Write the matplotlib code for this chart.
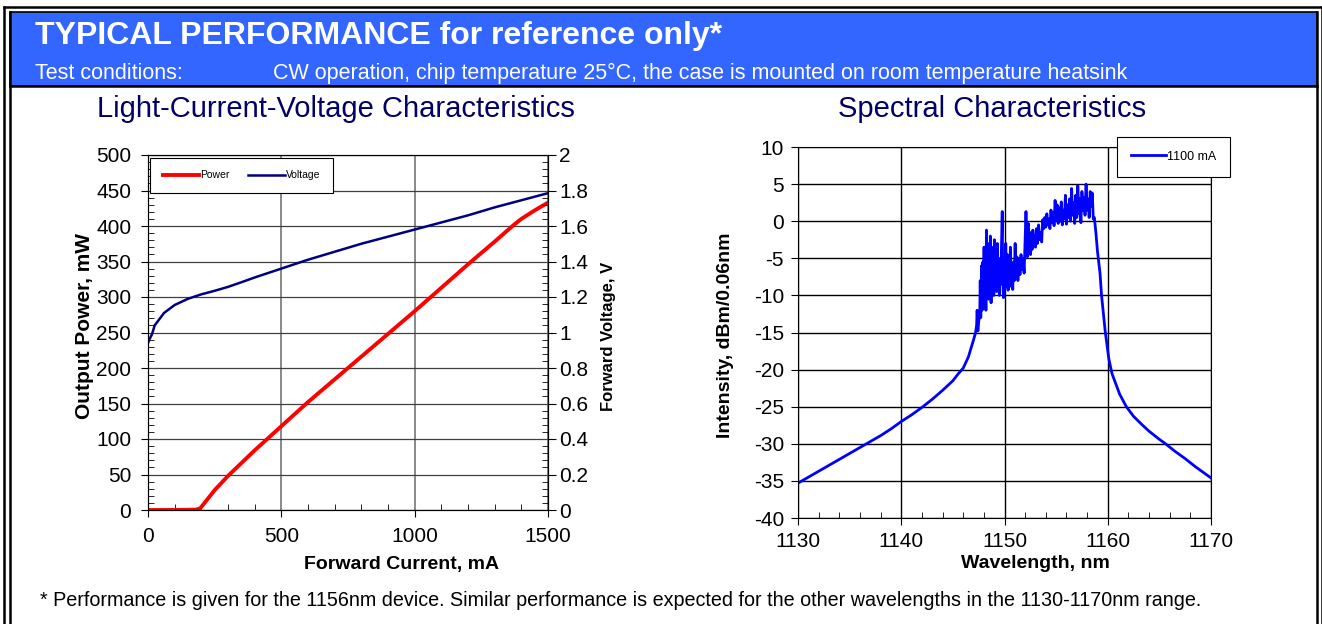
import matplotlib
matplotlib.use('Agg')
import matplotlib.pyplot as plt
from matplotlib.lines import Line2D
from matplotlib.patches import Rectangle
from matplotlib.ticker import MultipleLocator

plt.rcParams['font.family'] = ['Liberation Sans', 'DejaVu Sans']
plt.rcParams['axes.unicode_minus'] = False

W, H = 1322, 624

# L-I-V curves
current_p = [0, 100, 180, 195, 210, 250, 300, 400, 500, 600, 700, 800, 900, 1000,
             1100, 1200, 1300, 1370, 1400, 1450, 1500]
power = [0, 0, 0.5, 2, 9, 28, 48, 84, 118, 152, 184, 216, 248, 280,
         313, 346, 378, 401, 410, 422, 433]

current_v = [0, 5, 15, 25, 40, 60, 100, 150, 200, 250, 300, 350, 400, 450, 500, 600, 700,
             800, 900, 1000, 1100, 1200, 1300, 1400, 1500]
voltage = [0.94, 0.96, 0.99, 1.04, 1.07, 1.11, 1.155, 1.19, 1.215, 1.235, 1.257, 1.283,
           1.31, 1.335, 1.36, 1.41, 1.455, 1.5, 1.54, 1.58, 1.62, 1.66, 1.705, 1.745, 1.785]

# spectrum at 1100 mA
wavelength = [1130, 1131, 1132, 1133, 1134, 1135, 1136, 1137, 1138, 1139, 1140, 1141,
              1142, 1143, 1144, 1145, 1145.5, 1146, 1146.5,
              1147.0, 1147.2, 1147.3, 1147.35, 1147.42, 1147.5, 1147.6, 1147.65, 1147.7,
              1147.78, 1147.83, 1147.9, 1147.95, 1148.02, 1148.08, 1148.13, 1148.2,
              1148.25, 1148.32, 1148.38, 1148.45, 1148.5, 1148.57, 1148.63, 1148.7,
              1148.76, 1148.83, 1148.9, 1148.96, 1149.02, 1149.1, 1149.16, 1149.23,
              1149.3, 1149.36, 1149.43, 1149.5, 1149.57, 1149.63, 1149.7, 1149.78,
              1149.83, 1149.9, 1149.97, 1150.05, 1150.12, 1150.2, 1150.27, 1150.35,
              1150.42, 1150.5, 1150.57, 1150.65, 1150.72, 1150.8, 1150.87, 1150.95,
              1151.03, 1151.1, 1151.2, 1151.3, 1151.4, 1151.5, 1151.6, 1151.7, 1151.8,
              1151.9, 1152.0, 1152.08, 1152.15, 1152.22, 1152.3, 1152.37, 1152.45,
              1152.52, 1152.6, 1152.68, 1152.75, 1152.83, 1152.9, 1153.0, 1153.1,
              1153.2, 1153.3, 1153.4, 1153.5, 1153.6, 1153.7, 1153.8, 1153.9, 1154.0,
              1154.1, 1154.2, 1154.3, 1154.4, 1154.5, 1154.6, 1154.7, 1154.8, 1154.9,
              1155.0, 1155.1, 1155.2, 1155.3, 1155.4, 1155.5, 1155.6, 1155.7, 1155.8,
              1155.9, 1156.0, 1156.1, 1156.2, 1156.3, 1156.4, 1156.5, 1156.6, 1156.7,
              1156.8, 1156.9, 1157.0, 1157.1, 1157.2, 1157.3, 1157.4, 1157.5, 1157.6,
              1157.7, 1157.8, 1157.9, 1158.0, 1158.1, 1158.2, 1158.3, 1158.4, 1158.5,
              1158.6, 1158.7, 1158.85, 1159.0, 1159.25, 1159.4, 1159.6, 1159.75,
              1159.9, 1160.1, 1160.4, 1160.8, 1161.15, 1161.8, 1162.5, 1163.3, 1164.0,
              1165.0, 1165.6, 1166.5, 1167.5, 1168.5, 1169.3, 1170]
intensity = [-35.3, -34.5, -33.7, -32.9, -32.1, -31.3, -30.5, -29.7, -28.9, -28.0, -27.0,
             -26.1, -25.1, -24.0, -22.8, -21.5, -20.6, -19.8, -18.3,
             -16.0, -15.0, -14.0, -12.0, -14.8, -13.5, -12.8, -8.0, -13.0,
             -6.0, -12.0, -5.5, -11.5, -3.5, -10.0, -4.0, -12.0,
             -1.2, -8.0, -3.0, -10.5, -4.5, -9.0, -2.0, -11.0,
             -3.5, -8.5, -4.8, -10.0, -2.5, -7.5, -4.0, -9.5,
             -3.0, -7.0, -5.0, -10.0, -6.0, -8.5, -4.0, 1.3,
             -8.0, -10.3, -6.0, -9.0, -3.0, -8.2, -4.5, -9.3,
             -5.5, -8.8, -3.5, -8.0, -6.5, -9.2, -5.5, -8.0,
             -3.0, -7.5, -4.8, -8.0, -5.0, -7.2, -4.5, -6.5, -5.0,
             -7.0, -2.5, 1.3, -2.2, -4.8, -0.3, -3.8, -1.5,
             -4.5, -2.0, -3.8, -1.2, -3.2, -2.0, -3.5, -1.0,
             -3.0, -0.5, -2.5, -1.5, -2.8, 0.2, -1.0, 0.5, -0.8,
             1.0, -0.5, 0.3, -1.0, 1.5, -0.2, 1.2, -0.6, 2.8,
             0.2, 2.2, -0.3, 1.8, 0.0, 2.6, -0.5, 1.5, 0.3,
             3.5, -0.4, 2.2, 0.5, 3.0, 0.0, 4.4, 0.8, 2.5,
             -0.3, 3.5, 0.5, 4.8, 1.0, 3.0, -0.2, 4.0, 1.5,
             3.2, 0.8, 5.0, 1.5, 3.0, 0.5, 4.0, 2.0, 3.8,
             0.3, 0.5, -1.5, -4.0, -7.0, -10.0, -12.8, -14.8,
             -16.4, -18.5, -20.5, -22.0, -23.3, -25.0, -26.3, -27.4, -28.3,
             -29.4, -30.0, -31.0, -32.0, -33.1, -33.9, -34.6]


def fx(px):
    return px / W


def fy(py):
    return 1 - py / H


fig = plt.figure(figsize=(W / 100, H / 100), dpi=100)

# page frame and header band
band = Rectangle((fx(10), fy(86)), fx(1307), 74 / H, transform=fig.transFigure,
                 facecolor='#3366FF', edgecolor='black', lw=1.2, zorder=0)
fig.add_artist(band)
frame = [([3.5, 3.5], [6.5, 624]), ([3.5, 1321.5], [6.5, 6.5]), ([1321.5, 1321.5], [6.5, 624]),
         ([9.5, 9.5], [12, 624]), ([1317, 1317], [12, 624]), ([10, 1317], [86, 86])]
for xs, ys in frame:
    fig.add_artist(Line2D([fx(v) for v in xs], [fy(v) for v in ys], transform=fig.transFigure,
                          color='black', lw=1.8))

fig.text(fx(35), fy(44), 'TYPICAL PERFORMANCE for reference only*', color='white',
         fontsize=23, fontweight='bold', va='baseline')
fig.text(fx(35), fy(79), 'Test conditions:', color='white', fontsize=15.5, va='baseline')
fig.text(fx(273), fy(79), 'CW operation, chip temperature 25°C, the case is mounted on room '
         'temperature heatsink', color='white', fontsize=15.5, va='baseline')
fig.text(fx(336), fy(117), 'Light-Current-Voltage Characteristics', color='#000066',
         fontsize=21, ha='center', va='baseline')
fig.text(fx(992), fy(117), 'Spectral Characteristics', color='#000066',
         fontsize=21, ha='center', va='baseline')
fig.text(fx(40), fy(606), '* Performance is given for the 1156nm device. Similar performance is '
         'expected for the other wavelengths in the 1130-1170nm range.', fontsize=14.2,
         va='baseline')

# ---- L-I-V chart ----
ax1 = fig.add_axes([fx(148), fy(510), 400 / W, 355 / H])
ax1.plot(current_p, power, color='#FF0000', lw=2.8, label='Power')
ax1.set_xlim(0, 1500)
ax1.set_ylim(0, 500)
ax1.xaxis.set_major_locator(MultipleLocator(500))
ax1.xaxis.set_minor_locator(MultipleLocator(100))
ax1.yaxis.set_major_locator(MultipleLocator(50))
ax1.yaxis.set_minor_locator(MultipleLocator(10))
ax1.xaxis.grid(True, color='#808080', lw=1.3)
ax1.yaxis.grid(True, color='#404040', lw=0.9)
ax1.tick_params(which='major', direction='out', length=5, labelsize=15, pad=7)
ax1.tick_params(which='minor', direction='in', length=4)

ax1v = ax1.twinx()
ax1v.plot(current_v, voltage, color='#000080', lw=1.8, label='Voltage')
ax1v.set_ylim(0, 2)
ax1v.yaxis.set_major_locator(MultipleLocator(0.2))
ax1v.yaxis.set_minor_locator(MultipleLocator(0.04))
ax1v.yaxis.set_major_formatter(lambda v, p: f'{v:g}')
ax1v.tick_params(which='major', direction='out', length=6, labelsize=15, pad=2)
ax1v.tick_params(which='minor', direction='in', length=4)

ax1.set_xlabel('Forward Current, mA', fontsize=14, fontweight='bold', va='center')
ax1.xaxis.set_label_coords((402 - 148) / 400, -(564 - 510) / 355)
ax1.set_ylabel('Output Power, mW', fontsize=15, fontweight='bold', va='center')
ax1.yaxis.set_label_coords(-(148 - 85) / 400, (510 - 326) / 355)
ax1v.set_ylabel('Forward Voltage, V', fontsize=12, fontweight='bold', va='center',
                rotation=90)
ax1v.yaxis.set_label_coords((608 - 148) / 400, (510 - 336) / 355)

h1, l1 = ax1.get_legend_handles_labels()
h2, l2 = ax1v.get_legend_handles_labels()
leg = ax1v.legend(h1 + h2, l1 + l2, loc='upper left', bbox_to_anchor=(fx(150), fy(158)),
                  bbox_transform=fig.transFigure, borderaxespad=0, ncol=2, fontsize=7.5,
                  handlelength=3.5, handletextpad=0.1, columnspacing=1.8, borderpad=1.2,
                  fancybox=False, framealpha=1, edgecolor='black')
leg.get_frame().set_linewidth(0.8)

# ---- spectrum chart ----
ax2 = fig.add_axes([fx(798), fy(518), 413 / W, 371 / H])
ax2.plot(wavelength, intensity, color='#0000FF', lw=2, label='1100 mA')
ax2.set_xlim(1130, 1170)
ax2.set_ylim(-40, 10)
ax2.xaxis.set_major_locator(MultipleLocator(10))
ax2.xaxis.set_minor_locator(MultipleLocator(2))
ax2.yaxis.set_major_locator(MultipleLocator(5))
ax2.grid(True, color='black', lw=1)
ax2.tick_params(which='major', direction='out', length=5, labelsize=15, pad=5)
ax2.tick_params(which='minor', direction='in', length=4)
ax2.set_xlabel('Wavelength, nm', fontsize=14, fontweight='bold', va='center')
ax2.xaxis.set_label_coords((1035 - 798) / 413, -(563 - 518) / 371)
ax2.set_ylabel('Intensity, dBm/0.06nm', fontsize=14, fontweight='bold', va='center')
ax2.yaxis.set_label_coords(-(798 - 726) / 413, (518 - 335) / 371)
leg2 = ax2.legend(loc='upper left', bbox_to_anchor=(fx(1117), fy(137)),
                  bbox_transform=fig.transFigure, borderaxespad=0, fontsize=9,
                  handlelength=2.8, handletextpad=0.1, borderpad=1.1,
                  fancybox=False, framealpha=1, edgecolor='black')
leg2.get_frame().set_linewidth(0.8)

fig.savefig('out.png', dpi=100)
